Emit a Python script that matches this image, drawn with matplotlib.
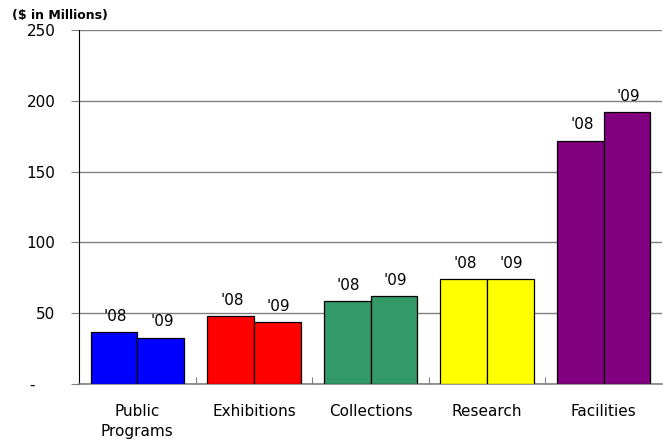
import numpy as np
import matplotlib
matplotlib.use("Agg")
import matplotlib.pyplot as plt

plt.rcParams['font.family'] = ['DejaVu Sans']

# 数据（百万美元）
categories = ["Public\nPrograms", "Exhibitions", "Collections", "Research", "Facilities"]
values_08 = [36.4, 48.1, 58.7, 74.1, 171.8]
values_09 = [32.8, 43.7, 62.2, 74.1, 192.1]
year_labels = ["'08", "'09"]
colors = ["#0000FF", "#FF0000", "#339966", "#FFFF00", "#800080"]
yticks = [0, 50, 100, 150, 200, 250]
ytick_labels = ["-    ", "50", "100", "150", "200", "250"]

fig = plt.figure(figsize=(6.63, 4.42), dpi=100)
ax = fig.add_axes([79 / 663, 1 - 384 / 442, 583 / 663, 354 / 442])

x = np.arange(len(categories))
w = 0.4
bars08 = ax.bar(x - w / 2, values_08, w, color=colors, edgecolor="black", linewidth=0.9, zorder=3)
bars09 = ax.bar(x + w / 2, values_09, w, color=colors, edgecolor="black", linewidth=0.9, zorder=3)

# 柱顶年份标签
for bars, lab in ((bars08, year_labels[0]), (bars09, year_labels[1])):
    for b in bars:
        ax.annotate(lab, (b.get_x() + b.get_width() / 2, b.get_height()),
                    xytext=(1, 6), textcoords="offset points",
                    ha="center", va="bottom", fontsize=11)

ax.set_xlim(-0.5, len(categories) - 0.5)
ax.set_ylim(0, 250)
ax.set_yticks(yticks)
ax.set_yticklabels(ytick_labels, fontsize=11)
ax.yaxis.grid(True, color="#808080", linewidth=1.0, zorder=0)
ax.tick_params(axis="y", length=6, color="#808080", pad=11)

# 类别之间的刻度线
ax.set_xticks(x[:-1] + 0.5)
ax.set_xticklabels([])
ax.tick_params(axis="x", direction="in", length=5, color="#808080")
for xi, c in zip(x, categories):
    ax.text(xi, -14, c, ha="center", va="top", fontsize=11, linespacing=1.45)

for s in ("top", "right"):
    ax.spines[s].set_visible(False)
ax.spines["left"].set_color("black")
ax.spines["bottom"].set_color("#808080")
ax.spines["bottom"].set_linewidth(1.2)

fig.text(12 / 663, 1 - 15 / 442, "($ in Millions)", fontsize=9, fontweight="bold",
         ha="left", va="center")

fig.savefig("out.png", dpi=100)
